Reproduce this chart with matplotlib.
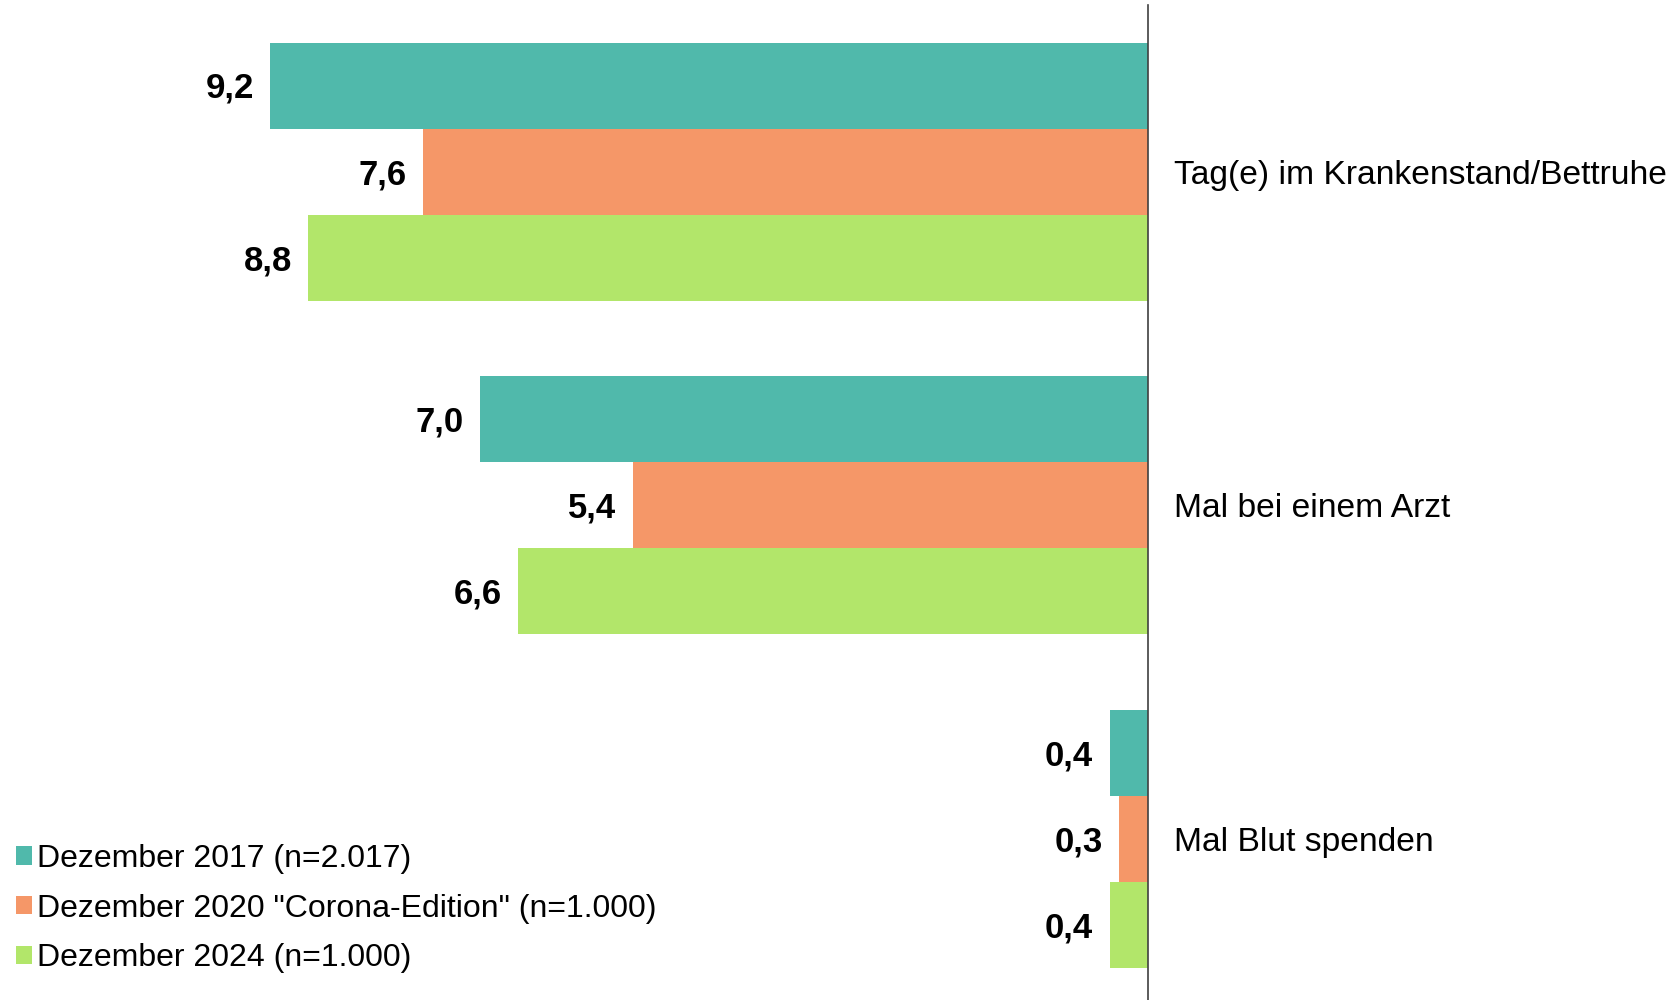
import matplotlib
matplotlib.use("Agg")
import matplotlib.pyplot as plt
import numpy as np

plt.rcParams['font.family'] = ['Liberation Sans', 'DejaVu Sans']

categories = ["Tag(e) im Krankenstand/Bettruhe", "Mal bei einem Arzt", "Mal Blut spenden"]
series_names = ["Dezember 2017 (n=2.017)",
                "Dezember 2020 \"Corona-Edition\" (n=1.000)",
                "Dezember 2024 (n=1.000)"]
values_2017 = [9.2, 7.0, 0.4]
values_2020 = [7.6, 5.4, 0.3]
values_2024 = [8.8, 6.6, 0.4]
colors = ["#50B9AB", "#F59768", "#B2E66A"]

W, H = 1675, 1000
fig = plt.figure(figsize=(W / 100, H / 100), dpi=100)
axis_px = 1148
ax = fig.add_axes([0, 0, axis_px / W, (1000 - 5) / H])

pos = np.arange(len(categories))
bh = 0.258
all_series = [values_2017, values_2020, values_2024]
for i, (vals, name, col) in enumerate(zip(all_series, series_names, colors)):
    ys = pos + (i - 1) * bh
    ax.barh(ys, vals, height=bh, color=col, label=name, linewidth=0)
    for y, v in zip(ys, vals):
        ax.annotate(f"{v:.1f}".replace(".", ","), xy=(v, y), xytext=(-12, -2),
                    textcoords="offset points", ha="right", va="center",
                    fontsize=25, fontweight="bold", color="black")

px_per_unit = 95.4
ax.set_xlim(axis_px / px_per_unit, 0)
ax.set_ylim(2.483, -0.5)

for s in ["top", "bottom", "left"]:
    ax.spines[s].set_visible(False)
ax.spines["right"].set_color("#404040")
ax.spines["right"].set_linewidth(1.2)
ax.set_xticks([])
ax.yaxis.tick_right()
ax.set_yticks(pos, categories)
ax.tick_params(axis="y", length=0, pad=19, labelsize=24.2)
ax.patch.set_alpha(0)

fig.legend(loc="upper left", bbox_to_anchor=(0.002, 0.169), frameon=False,
           fontsize=23, handlelength=0.5, handleheight=0.5,
           handletextpad=0.15, labelspacing=0.62, borderaxespad=0)

fig.savefig("out.png", dpi=100)
